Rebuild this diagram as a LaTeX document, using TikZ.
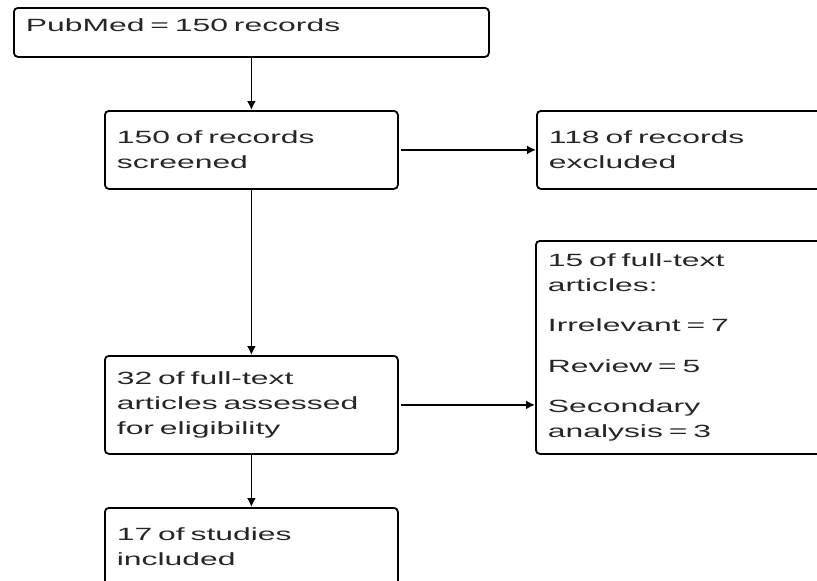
\documentclass[tikz,border=0pt]{standalone}
\usepackage{fontspec}
\setmainfont{Liberation Sans}[FakeStretch=1.8]
\usetikzlibrary{arrows.meta}
\newcommand\boxfont{\fontsize{8.85}{12.3}\selectfont\spaceskip=5.5pt plus 1pt\relax}

\begin{document}
\begin{tikzpicture}[x=0.5pt,y=-0.5pt,
    box/.style={draw,line width=0.9pt,rounded corners=2pt,anchor=north west,
      align=left,inner xsep=6pt,text=black!85,font=\boxfont},
    flow/.style={line width=0.9pt,-{Latex[length=4.5pt,width=4.5pt]}}]
  \useasboundingbox (0,0) rectangle (817,580);
  \clip (0,0) rectangle (817,580);

  % boxes, top left corners in pixels
  \node[box,text width=225.5pt,minimum height=24.5pt,text depth=7pt] (pub) at (13,7) {PubMed = 150 records};
  \node[box,text width=134.5pt,minimum height=39pt] (screen) at (104,110) {150 of records\\screened};
  \node[box,text width=138pt,minimum height=39pt] (excl) at (536,110) {118 of records\\excluded};
  \node[box,text width=134.5pt,minimum height=49pt] (elig) at (104,355) {32 of full-text\\articles assessed\\for eligibility};
  \node[box,text width=138pt,minimum height=106.5pt] (full) at (535,240) {15 of full-text\\articles:\\[8pt]Irrelevant = 7\\[8pt]Review = 5\\[8pt]Secondary\\analysis = 3};
  \node[box,text width=134.5pt,minimum height=39pt] (incl) at (104,507) {17 of studies\\included};

  % connectors
  \draw[flow] (pub) -- (screen);
  \draw[flow,shorten <=1pt] (screen) -- (excl);
  \draw[flow] (screen) -- (elig);
  \draw[flow,shorten <=1pt] (elig.east) -- (elig.east -| full.west);
  \draw[flow] (elig) -- (incl);
\end{tikzpicture}
\end{document}
